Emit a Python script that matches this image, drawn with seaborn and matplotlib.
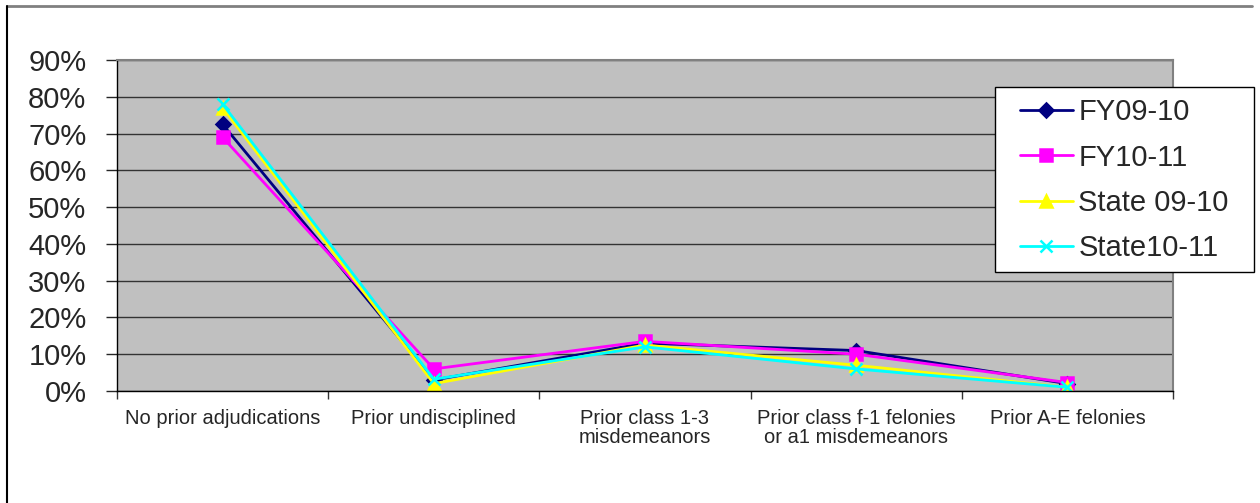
import pandas as pd
import numpy as np
import matplotlib
matplotlib.use("Agg")
import matplotlib.pyplot as plt
import seaborn as sns
from matplotlib.lines import Line2D
from matplotlib.patches import Rectangle
from matplotlib.ticker import FixedLocator, PercentFormatter

# categories on the x axis
categories = ["No prior adjudications", "Prior undisciplined", "Prior class 1-3\nmisdemeanors",
              "Prior class f-1 felonies\nor a1 misdemeanors", "Prior A-E felonies"]

# percent values
fy0910 = [72.5, 3.0, 13.0, 11.0, 2.0]
fy1011 = [69.0, 6.0, 13.5, 10.0, 2.3]
state0910 = [77.0, 2.0, 12.5, 7.0, 1.0]
state1011 = [78.0, 3.2, 12.0, 6.0, 1.0]

series_names = ["FY09-10", "FY10-11", "State 09-10", "State10-11"]
series_vals = [fy0910, fy1011, state0910, state1011]
colors = ["#000080", "#FF00FF", "#FFFF00", "#00FFFF"]
marks = ["D", "s", "^", "x"]
msizes = [7, 9, 9, 9]

sns.set_style("white")
plt.rcParams["font.family"] = ["Liberation Sans", "DejaVu Sans"]

fig = plt.figure(figsize=(12.6, 5.03), dpi=100)
ax = fig.add_axes([117 / 1260, 1 - 391 / 503, (1173 - 117) / 1260, (391 - 60) / 503])
ax.set_facecolor("#C0C0C0")

# one lineplot call per series (seaborn won't mix filled and line markers)
for name, vals, c, m, ms in zip(series_names, series_vals, colors, marks, msizes):
    d = pd.DataFrame({"pos": range(len(vals)), "value": vals})
    sns.lineplot(data=d, x="pos", y="value", color=c, marker=m, markersize=ms,
                 markeredgecolor=c, markerfacecolor=c, markeredgewidth=1.8,
                 linewidth=2, label=name, ax=ax)

ax.set_xlim(-0.5, 4.5)
ax.set_ylim(0, 90)
ax.yaxis.set_major_locator(FixedLocator(np.arange(0, 91, 10)))
ax.yaxis.set_major_formatter(PercentFormatter(decimals=0))
ax.grid(axis="y", color="#333333", linewidth=1)
ax.set_axisbelow(True)

ax.set_xticks(range(len(categories)))
ax.set_xticklabels(categories, fontsize=14.5, linespacing=1.0)
ax.xaxis.set_minor_locator(FixedLocator(np.arange(-0.5, 5, 1)))
ax.tick_params(axis="x", which="major", length=0, pad=13)
ax.tick_params(axis="x", which="minor", length=6, width=1, color="#333333", direction="out", bottom=True)
ax.tick_params(axis="y", labelsize=21, length=8, width=1, pad=14, direction="out", left=True)
ax.set_xlabel("")
ax.set_ylabel("")

for s in ["top", "right"]:
    ax.spines[s].set_color("#808080")
    ax.spines[s].set_linewidth(1.5)
for s in ["left", "bottom"]:
    ax.spines[s].set_color("#000000")
    ax.spines[s].set_linewidth(1)

# legend box drawn by hand so it can be as wide as in the original
box = Rectangle((995 / 1260, 1 - 272 / 503), (1254 - 995) / 1260, (272 - 87) / 503,
                transform=fig.transFigure, facecolor="white", edgecolor="black",
                linewidth=1, zorder=5, clip_on=False)
ax.add_patch(box)
handles, labels = ax.get_legend_handles_labels()
leg = ax.legend(handles, labels, loc="upper left", bbox_to_anchor=(1020 / 1260, 1 - 98 / 503),
                bbox_transform=fig.transFigure, borderaxespad=0, borderpad=0, fontsize=21,
                frameon=False, handlelength=1.8, handletextpad=0.2, labelspacing=0.6)
leg.set_zorder(6)

# outer chart border: only top (gray) and left (black) show in the original
fig.lines.append(Line2D([7 / 1260, 1252 / 1260], [1 - 6 / 503, 1 - 6 / 503],
                        transform=fig.transFigure, color="#808080", linewidth=2))
fig.lines.append(Line2D([7 / 1260, 7 / 1260], [0, 1 - 6 / 503],
                        transform=fig.transFigure, color="black", linewidth=1.5))

fig.savefig("out.png", dpi=100)
